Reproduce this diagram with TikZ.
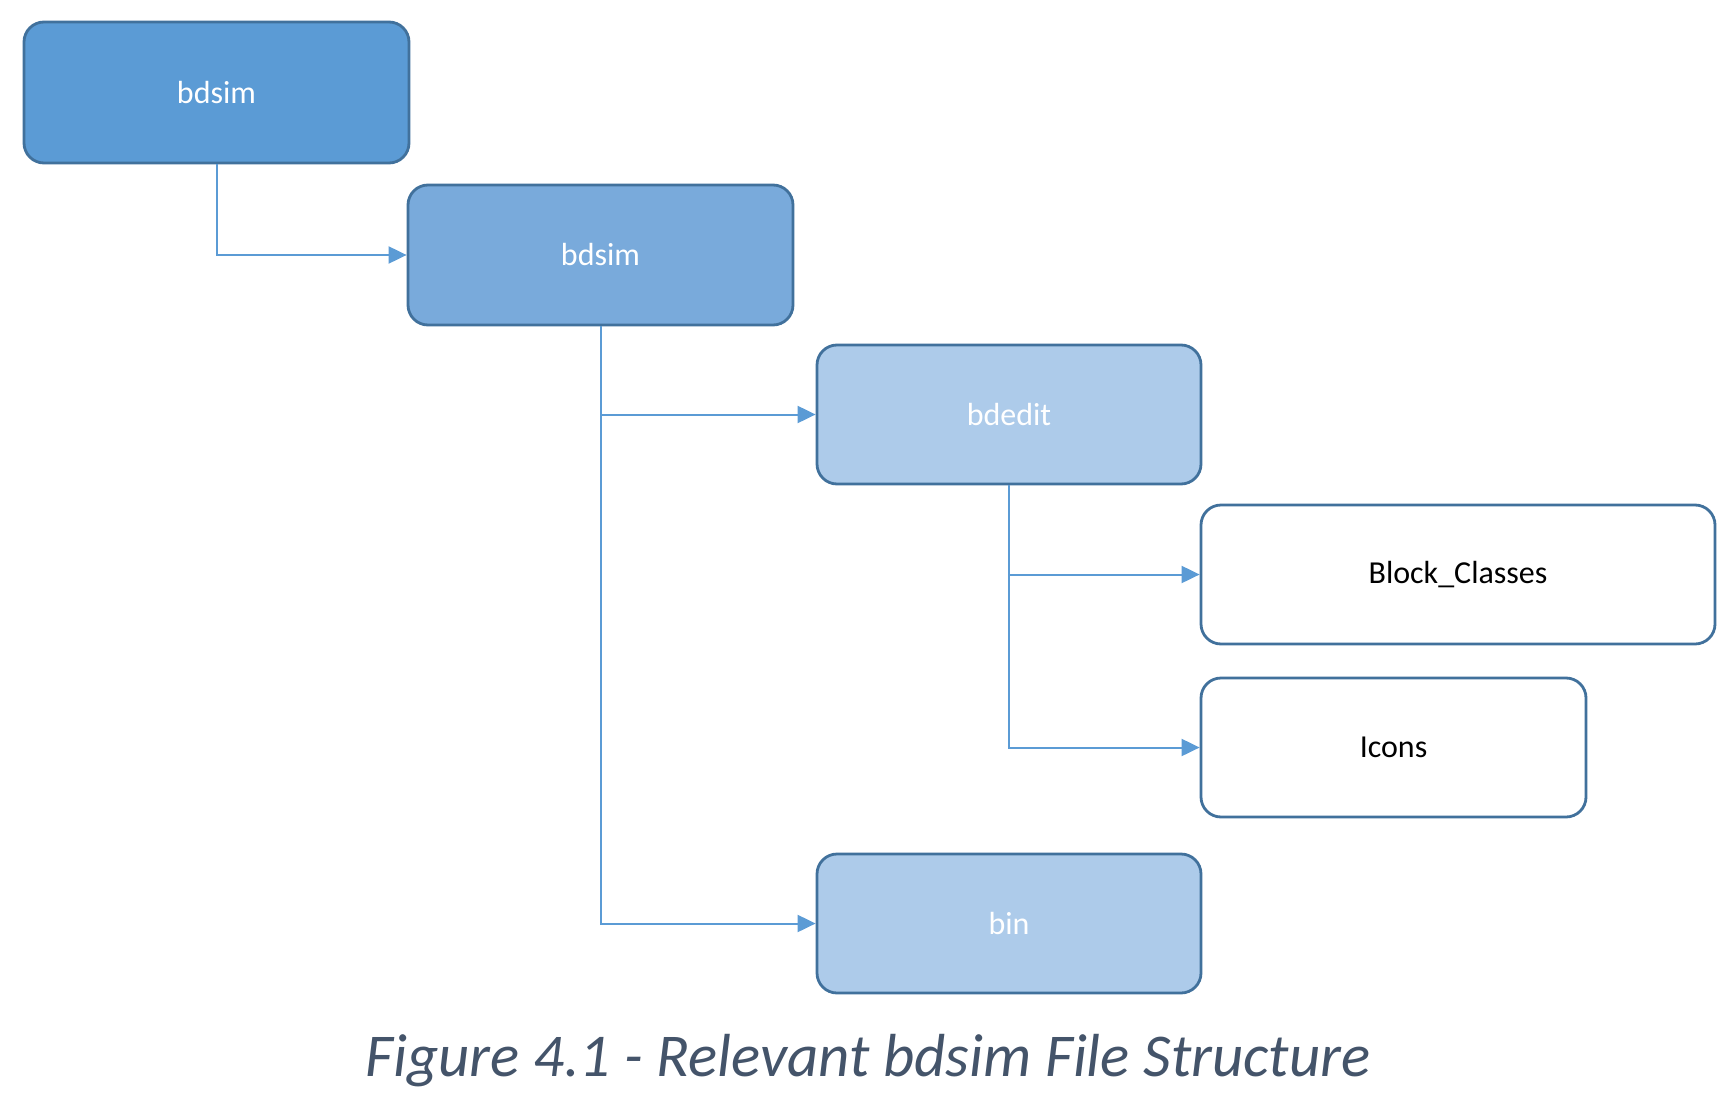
\documentclass[tikz,border=0pt]{standalone}
\usepackage{fontspec}
\setmainfont{Carlito}
\usetikzlibrary{arrows.meta}
\definecolor{bordc}{HTML}{41719C}
\definecolor{fillA}{HTML}{5B9BD5}
\definecolor{fillB}{HTML}{79AADB}
\definecolor{fillC}{HTML}{ADCBEA}
\definecolor{connc}{HTML}{5B9BD5}
\definecolor{capc}{HTML}{44546A}
\tikzset{
  box/.style={rectangle, rounded corners=10pt, draw=bordc, line width=1.4pt,
    minimum width=192.5pt, minimum height=69.5pt, inner sep=0pt,
    font=\fontsize{16}{19}\selectfont},
  boxA/.style={box, fill=fillA, text=white},
  boxB/.style={box, fill=fillB, text=white},
  boxC/.style={box, fill=fillC, text=white},
  boxW/.style={box, fill=white, text=black},
  conn/.style={draw=connc, line width=1pt, -{Triangle[length=9pt,width=8.5pt]}},
  captionstyle/.style={text=capc, font=\fontsize{30.4}{36}\selectfont\itshape, inner sep=0pt}
}
\begin{document}
\begin{tikzpicture}[x=0.5pt,y=-0.5pt]
\useasboundingbox[fill=white] (0,0) rectangle (1734,1102);
\node[boxA, minimum height=70.5pt] (b1) at (216.5,92.5) {bdsim};
\node[boxB, minimum height=70pt] (b2) at (600.5,255) {bdsim};
\node[boxC, minimum width=192pt] (b3) at (1009,414.5) {bdedit};
\node[boxW, minimum width=257pt] (bc) at (1458,574.5) {Block\_Classes};
\node[boxW] (ic) at (1393.5,747.5) {Icons};
\node[boxC, minimum width=192pt] (bin) at (1009,923.5) {bin};
\draw[conn] (b1.south) |- (b2.west);
\draw[conn] (b2.south) |- (b3.west);
\draw[conn] (b2.south) |- (bin.west);
\draw[conn] (b3.south) |- (bc.west);
\draw[conn] (b3.south) |- (ic.west);
\node[captionstyle] (cap) at (868,1061) {Figure 4.1 - Relevant bdsim File Structure};
\end{tikzpicture}
\end{document}
